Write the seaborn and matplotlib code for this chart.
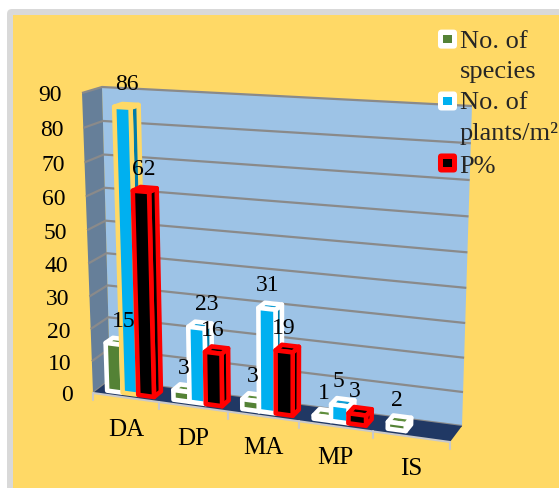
import matplotlib
matplotlib.use("Agg")
import matplotlib.pyplot as plt
import numpy as np
import pandas as pd
import seaborn as sns
from matplotlib.legend_handler import HandlerBase
from matplotlib.patches import FancyBboxPatch, Polygon, Rectangle
from matplotlib.transforms import IdentityTransform, Transform

# Chart data
groups = ["DA", "DP", "MA", "MP", "IS"]
series_names = ["No. of\nspecies", "No. of\nplants/m²", "P%"]
species = [15, 3, 3, 1, 2]
plants = [86, 23, 31, 5, None]
percent = [62, 16, 19, 3, None]
value_ticks = list(range(0, 100, 10))

# Series styling: front colour, side colour, top colour, outline
front_colors = ["#548235", "#00B0F0", "#000000"]
side_colors = ["#548235", "#007CA8", "#000000"]
top_colors = ["#5F8E3D", "#0F9ED5", "#000000"]
edge_colors = ["#FFFFFF", "#FFFFFF", "#FF0000"]
first_plants_edge = "#FFD966"

WIDTH, HEIGHT = 559, 489
YMAX = 90
XMIN, XMAX = -0.5, 4.5
BACK_DEPTH, FRONT_DEPTH = 0.30, 0.72
BAR_EDGE = 3.3

sns.set_theme(style="white")
plt.rcParams["font.family"] = ["Liberation Serif", "DejaVu Sans"]

fig = plt.figure(figsize=(WIDTH / 100, HEIGHT / 100), dpi=100, facecolor="#FFD966")
ax = fig.add_axes([0, 0, 1, 1])


def canvas(x, y):
    """Image-style pixel position (origin top left) to display coordinates."""
    return (x, HEIGHT - y)


# Box corners on the canvas: bottom-left, bottom-right, top-right, top-left
BACK_CORNERS = np.array([canvas(110, 381), canvas(462, 427), canvas(472, 107), canvas(102, 88)], float)
FRONT_CORNERS = np.array([canvas(93, 394), canvas(450, 443), canvas(459, 115), canvas(82, 94)], float)


class PlaneProjection(Transform):
    """Projects (category, value) on a slice of the 3D box at a given depth."""
    input_dims = output_dims = 2
    is_affine = False
    has_inverse = False

    def __init__(self, depth):
        super().__init__()
        dst = BACK_CORNERS + depth * (FRONT_CORNERS - BACK_CORNERS)
        src = [(XMIN, 0), (XMAX, 0), (XMAX, YMAX), (XMIN, YMAX)]
        rows, rhs = [], []
        for (u, v), (px, py) in zip(src, dst):
            rows.append([u, v, 1, 0, 0, 0, -u * px, -v * px])
            rows.append([0, 0, 0, u, v, 1, -u * py, -v * py])
            rhs += [px, py]
        h = np.linalg.solve(np.array(rows, float), np.array(rhs, float))
        self.matrix = np.append(h, 1).reshape(3, 3)

    def transform_non_affine(self, values):
        values = np.asarray(values, float).reshape(-1, 2)
        pts = np.column_stack([values, np.ones(len(values))]) @ self.matrix.T
        return pts[:, :2] / pts[:, 2:3]


back_plane = PlaneProjection(0.0)
front_plane = PlaneProjection(1.0)
bar_back = PlaneProjection(BACK_DEPTH)
bar_front = PlaneProjection(FRONT_DEPTH)


def add_poly(points, **kw):
    patch = Polygon(points, closed=True, transform=IdentityTransform(), clip_on=False, **kw)
    ax.add_patch(patch)
    return patch


# Chart area frame: white margin, grey border with a rounded corner, yellow fill
ax.add_patch(Rectangle((-50, -50), WIDTH + 100, HEIGHT + 100, fc="white", ec="none",
                       transform=IdentityTransform(), clip_on=False, zorder=0))
ax.add_patch(FancyBboxPatch((7, -50), WIDTH + 50, HEIGHT + 40, boxstyle="round,pad=0,rounding_size=5",
                            fc="#D9D9D9", ec="none", transform=IdentityTransform(), clip_on=False, zorder=0.05))
ax.add_patch(Rectangle((13, -50), WIDTH + 50, HEIGHT + 34, fc="#FFD966", ec="none",
                       transform=IdentityTransform(), clip_on=False, zorder=0.1))

# Bars go through seaborn, then get re-projected onto the front slice of the box
table = pd.DataFrame({
    "group": groups * 3,
    "series": sum([[name] * len(groups) for name in series_names], []),
    "value": species + plants + percent,
})
sns.barplot(data=table, x="group", y="value", hue="series", order=groups, hue_order=series_names,
            palette=front_colors, width=0.71, saturation=1, legend=False, ax=ax)
ax.set_xlim(XMIN, XMAX)
ax.set_ylim(0, YMAX)
ax.axis("off")

# Back wall, side wall and floor
add_poly(back_plane.transform([(XMIN, 0), (XMAX, 0), (XMAX, YMAX), (XMIN, YMAX)]),
         fc="#9DC3E6", ec="none", zorder=1)
add_poly(np.vstack([back_plane.transform([(XMIN, 0), (XMIN, YMAX)]),
                    front_plane.transform([(XMIN, YMAX), (XMIN, 0)])]),
         fc="#667F99", ec="none", zorder=1)
add_poly(np.vstack([back_plane.transform([(XMIN, 0), (XMAX, 0)]),
                    front_plane.transform([(XMAX, 0), (XMIN, 0)])]),
         fc="#203864", ec="none", zorder=1.1)

# Gridlines run along the side wall and across the back wall
for v in value_ticks:
    pts = np.vstack([front_plane.transform([(XMIN, v)]),
                     back_plane.transform([(XMIN, v), (XMAX, v)])])
    ax.plot(pts[:, 0], pts[:, 1], color="#8A8A8A", lw=1.6, transform=IdentityTransform(),
            clip_on=False, zorder=1.2 if v else 1.05, solid_capstyle="butt")

# Front edge of the floor with category ticks
edge = front_plane.transform([(XMIN, 0), (XMAX, 0)])
ax.plot(edge[:, 0], edge[:, 1], color="#C9C9C9", lw=1.5, transform=IdentityTransform(),
        clip_on=False, zorder=1.3)
for i in range(len(groups) + 1):
    px, py = front_plane.transform([(XMIN + i, 0)])[0]
    ax.plot([px, px], [py, py - 7], color="#C9C9C9", lw=1.5, transform=IdentityTransform(),
            clip_on=False, zorder=1.3)

# Value axis labels
for v in value_ticks:
    ax.annotate(str(v), xy=(XMIN, v), xycoords=front_plane, xytext=(-20, -2), textcoords="offset pixels",
                ha="right", va="center", fontsize=17, color="black", annotation_clip=False, zorder=3)

# Category labels
for i, name in enumerate(groups):
    ax.annotate(name, xy=(i, 0), xycoords=front_plane, xytext=(0, -31), textcoords="offset pixels",
                ha="center", va="center", fontsize=18, color="black", annotation_clip=False, zorder=3)

# Fine placement of each value label, in pixels from the top of its bar
label_offsets = {
    (0, 0): (3, 18), (0, 1): (-4, 21), (0, 2): (-5, 19),
    (1, 0): (-4, 18), (1, 1): (3, 19), (1, 2): (-7, 18),
    (2, 0): (-4, 19), (2, 1): (-6, 19), (2, 2): (-7, 18),
    (3, 0): (-4, 18), (3, 1): (-7, 19), (3, 2): (-8, 18),
    (4, 0): (-5, 17),
}

# Finish each bar: side and top faces plus the value label above it
for s, container in enumerate(ax.containers):
    for bar in container:
        height = bar.get_height()
        if not np.isfinite(height) or height <= 0:
            bar.set_visible(False)
            continue
        x0, x1 = bar.get_x(), bar.get_x() + bar.get_width()
        g = int(round((x0 + x1) / 2))
        outline = first_plants_edge if (g == 0 and s == 1) else edge_colors[s]
        z = 2 + g + s * 0.1
        style = dict(ec=outline, lw=BAR_EDGE, joinstyle="round")

        add_poly(np.vstack([bar_front.transform([(x1, 0), (x1, height)]),
                            bar_back.transform([(x1, height), (x1, 0)])]),
                 fc=side_colors[s], zorder=z, **style)
        add_poly(np.vstack([bar_front.transform([(x0, height), (x1, height)]),
                            bar_back.transform([(x1, height), (x0, height)])]),
                 fc=top_colors[s], zorder=z + 0.01, **style)

        bar.set_transform(bar_front)
        bar.set_clip_on(False)
        bar.set_edgecolor(outline)
        bar.set_linewidth(BAR_EDGE)
        bar.set_joinstyle("round")
        bar.set_zorder(z + 0.02)

        dx, dy = label_offsets[(g, s)]
        ax.annotate(f"{height:.0f}", xy=((x0 + x1) / 2, height), xycoords=bar_back,
                    xytext=(dx, dy), textcoords="offset pixels", ha="center", va="center",
                    fontsize=17, color="black", annotation_clip=False, zorder=20)


class LegendSwatch(HandlerBase):
    """Rounded outlined square with a small inner colour block."""

    def __init__(self, outer, inner, lift):
        super().__init__()
        self.outer, self.inner, self.lift = outer, inner, lift

    def create_artists(self, legend, orig_handle, xdescent, ydescent, width, height, fontsize, trans):
        size = 13.7
        cx, cy = width / 2 - xdescent, height / 2 - ydescent + self.lift
        box = FancyBboxPatch((cx - size / 2 + 1.5, cy - size / 2 + 1.5), size - 3, size - 3,
                             boxstyle="round,pad=1.5,rounding_size=2.5", fc=self.outer, ec="none",
                             mutation_scale=1, transform=trans)
        block = Rectangle((cx - 3, cy - 3), 6, 6, fc=self.inner, ec="none", transform=trans)
        return [box, block]


proxies = [Rectangle((0, 0), 1, 1, fc=c) for c in front_colors]
legend = ax.legend(
    proxies, series_names,
    handler_map={
        proxies[0]: LegendSwatch("#FFFFFF", front_colors[0], 11.5),
        proxies[1]: LegendSwatch("#FFFFFF", front_colors[1], 11.5),
        proxies[2]: LegendSwatch("#FF0000", front_colors[2], 0),
    },
    loc="upper left", bbox_to_anchor=(438, HEIGHT - 31), bbox_transform=IdentityTransform(),
    frameon=False, fontsize=19, borderpad=0, borderaxespad=0, handlelength=0.72, handletextpad=0.1,
    labelspacing=0.36,
)
legend.set_zorder(30)
for text in legend.get_texts():
    text.set_linespacing(1.45)

fig.savefig("out.png", dpi=100, facecolor=fig.get_facecolor())
